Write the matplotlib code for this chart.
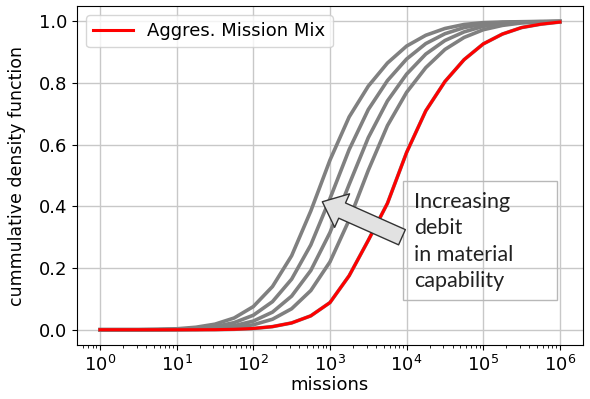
import numpy as np
import matplotlib
matplotlib.use('Agg')
import matplotlib.pyplot as plt
from matplotlib.patches import Rectangle

# missions grid (10^0 ... 10^6, quarter decades)
missions = 10 ** np.arange(0, 6.01, 0.25)

# gray curves: increasing debit in material capability (left = more debit)
cdf_g1 = [0, 0, 0, 0.001, 0.003, 0.008, 0.018, 0.038, 0.075, 0.14, 0.24, 0.385, 0.55,
          0.69, 0.79, 0.865, 0.92, 0.955, 0.977, 0.99, 0.996, 0.998, 0.999, 1.0, 1.0]
cdf_g2 = [0, 0, 0, 0.0005, 0.0015, 0.004, 0.010, 0.023, 0.047, 0.091, 0.164, 0.275, 0.425,
          0.584, 0.714, 0.808, 0.878, 0.928, 0.960, 0.980, 0.991, 0.9965, 0.998, 0.999, 1.0]
cdf_g3 = [0, 0, 0, 0, 0.0005, 0.002, 0.0056, 0.013, 0.028, 0.057, 0.109, 0.192, 0.315,
          0.471, 0.623, 0.742, 0.829, 0.894, 0.938, 0.966, 0.984, 0.993, 0.997, 0.9985, 1.0]
cdf_g4 = [0, 0, 0, 0, 0.0002, 0.0008, 0.0026, 0.007, 0.016, 0.034, 0.068, 0.127, 0.22,
          0.356, 0.517, 0.662, 0.77, 0.85, 0.909, 0.948, 0.973, 0.987, 0.995, 0.998, 1.0]
# aggregated mission mix (red)
cdf_mix = [0, 0, 0, 0, 0, 0, 0.0002, 0.0014, 0.004, 0.010, 0.022, 0.045, 0.088,
           0.175, 0.29, 0.41, 0.575, 0.71, 0.805, 0.876, 0.927, 0.959, 0.98, 0.991, 0.998]

gray_curves = [cdf_g1, cdf_g2, cdf_g3, cdf_g4, cdf_mix]

fig = plt.figure(figsize=(5.9, 3.99), dpi=100)
ax = fig.add_axes([0.1305, 0.135, 0.8575, 0.85])

for c in gray_curves:
    ax.plot(missions, c, color='#808080', lw=2.6)
ax.plot(missions, cdf_mix, color='red', lw=2.2, label='Aggres. Mission Mix')

ax.set_xscale('log')
ax.set_xticks([1e0, 1e1, 1e2, 1e3, 1e4, 1e5, 1e6])
ax.set_yticks([0.0, 0.2, 0.4, 0.6, 0.8, 1.0])
ax.tick_params(labelsize=13)
ax.grid(True, color='#c8c8c8', lw=1)
ax.set_axisbelow(True)
ax.set_xlabel('missions', fontsize=13, labelpad=1)
ax.set_ylabel('cummulative density function', fontsize=12.5, labelpad=9)
ax.legend(loc='upper left', fontsize=13, handlelength=2.2)

# arrow + note box
ax.annotate('', xy=(795, 0.415), xytext=(8700, 0.30),
            arrowprops=dict(arrowstyle='simple,head_length=1.3,head_width=2.2,tail_width=1.0',
                            mutation_scale=12, fc='#e2e2e2', ec='#333333', lw=1,
                            shrinkA=0, shrinkB=0), zorder=5)
ax.add_patch(Rectangle((0.644, 0.133), 0.305, 0.351, transform=ax.transAxes,
                       fill=False, ec='#b8b8b8', lw=1, zorder=4))
ax.text(0.666, 0.452, 'Increasing\ndebit\nin material\ncapability', transform=ax.transAxes,
        ha='left', va='top', fontsize=15.5, family=['Lato', 'DejaVu Sans'],
        linespacing=1.4, color='#222222', zorder=6)

plt.savefig('out.png', dpi=100)
